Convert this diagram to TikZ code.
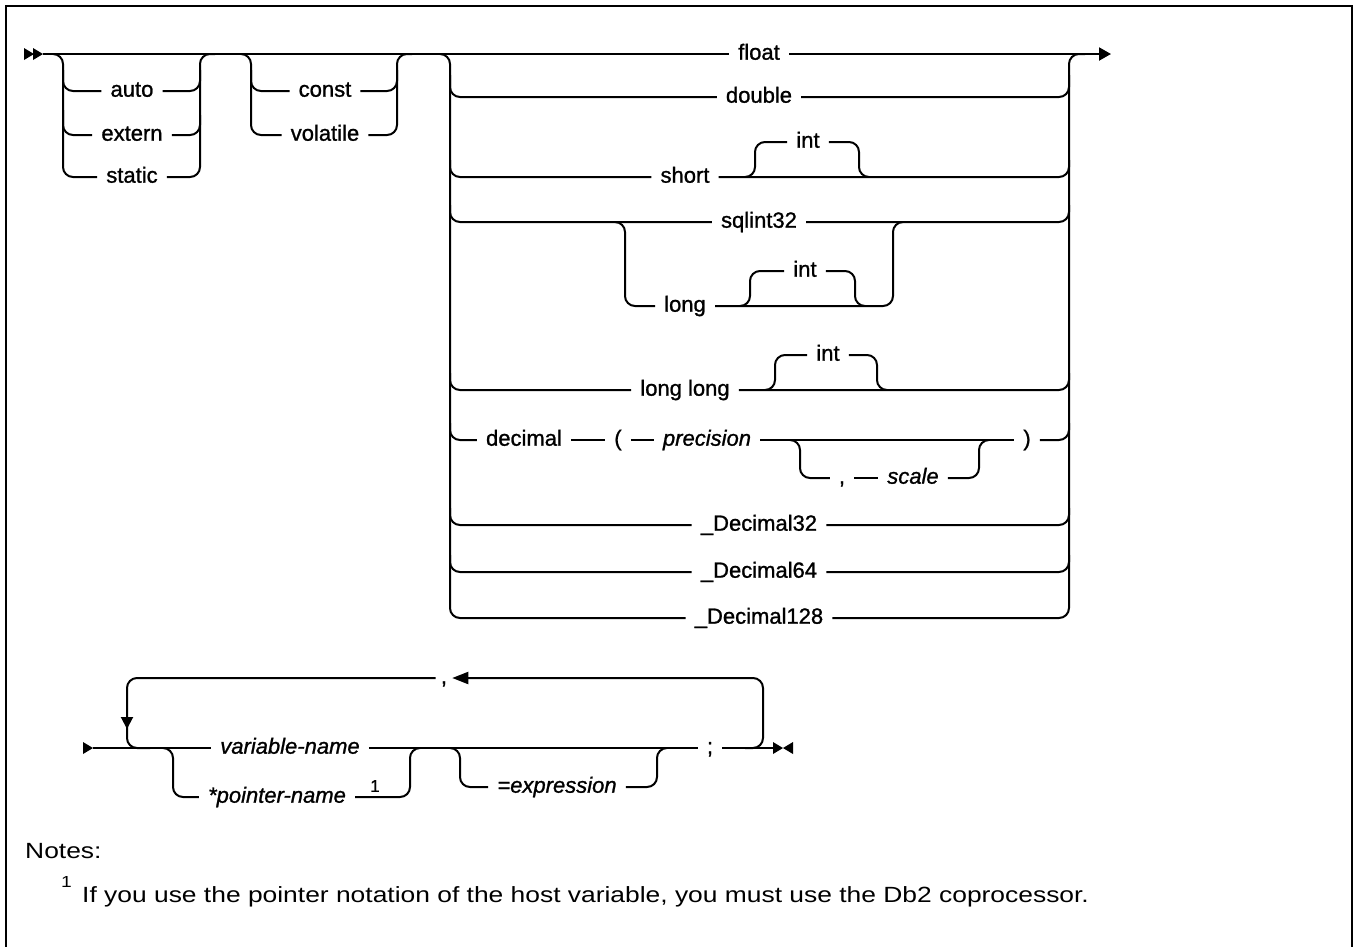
\documentclass[tikz,border=0pt]{standalone}
\usepackage{fontspec}
\setmainfont{Liberation Sans}
\newfontfamily\railfam{Liberation Sans}[FakeBold=1.1]
\newfontfamily\notefam{Liberation Sans}[FakeStretch=1.2]
\usetikzlibrary{arrows.meta}
\newcommand\lblfont{\railfam\fontsize{22}{26}\selectfont}
\newcommand\notefont{\notefam\fontsize{22}{26}\selectfont}
\newcommand\supfont{\railfam\fontsize{17}{20}\selectfont}
\newcommand\notesupfont{\notefam\fontsize{16}{19}\selectfont}
\begin{document}
\begin{tikzpicture}[x=1pt,y=-1pt,
  line/.style={line width=2pt},
  rail/.style={line width=2pt, rounded corners=10pt},
  lbl/.style={font=\lblfont, inner xsep=9pt, inner ysep=0pt, text height=11.4pt, text depth=0pt},
  ilbl/.style={lbl, font=\lblfont\itshape},
]
\useasboundingbox (0,0) rectangle (1354,946);
% frame
\draw[line width=2.5pt, line join=miter] (6,950) -- (6,6) -- (1352,6) -- (1352,950);

% ---------- top diagram ----------
\fill (24,48) -- (34,54) -- (24,60) -- cycle;
\fill (33,48) -- (43,54) -- (33,60) -- cycle;
\coordinate (s0) at (43,54);
\coordinate (e0) at (1111,54);
\node[lbl] (n-float) at (759,54) {float};
\draw[line] (s0) -- (n-float.west);
\draw[line, -{Triangle[length=12pt,width=13pt]}] (n-float.east) -- (e0);

% block 1
\node[lbl] (n-auto) at (132,91) {auto};
\node[lbl] (n-extern) at (132,135) {extern};
\node[lbl] (n-static) at (132,177) {static};
\draw[rail] (53,54) -| (63,177) -- (n-static.west);
\draw[rail] (63,70) |- (n-auto.west);
\draw[rail] (63,110) |- (n-extern.west);
\draw[rail] (n-static.east) -| (200,54) -- (215,54);
\draw[rail] (n-auto.east) -| (200,70);
\draw[rail] (n-extern.east) -| (200,115);

% block 2
\node[lbl] (n-const) at (325,91) {const};
\node[lbl] (n-volatile) at (325,135) {volatile};
\draw[rail] (241,54) -| (251,135) -- (n-volatile.west);
\draw[rail] (251,70) |- (n-const.west);
\draw[rail] (n-volatile.east) -| (397,54) -- (412,54);
\draw[rail] (n-const.east) -| (397,70);

% block 3
\node[lbl] (n-double) at (759,97) {double};
\node[lbl] (n-short) at (685,177) {short};
\node[lbl] (n-intS) at (808,142) {int};
\node[lbl] (n-sql) at (759,222) {sqlint32};
\node[lbl] (n-long) at (685,306) {long};
\node[lbl] (n-intL) at (805,271) {int};
\node[lbl] (n-ll) at (685,390) {long long};
\node[lbl] (n-intLL) at (828,355) {int};
\node[lbl] (n-decimal) at (524,440) {decimal};
\node[lbl] (n-lp) at (618,440) {(};
\node[ilbl] (n-prec) at (707,440) {precision};
\node[lbl] (n-comma) at (842,478) {,};
\node[ilbl] (n-scale) at (913,478) {scale};
\node[lbl] (n-rp) at (1027,440) {)};
\node[lbl] (n-d32) at (759,525) {\_Decimal32};
\node[lbl] (n-d64) at (759,572) {\_Decimal64};
\node[lbl] (n-d128) at (759,618) {\_Decimal128};

\draw[rail] (440,54) -| (450,618) -- (n-d128.west);
\draw[rail] (n-d128.east) -| (1069,54) -- (1085,54);

\draw[rail] (450,75) |- (n-double.west);
\draw[rail] (n-double.east) -| (1069,75);

\draw[rail] (450,160) |- (n-short.west);
\draw[rail] (n-short.east) -| (1069,160);
\draw[rail] (745,177) -| (755,142) -- (n-intS.west);
\draw[rail] (n-intS.east) -| (859,177) -- (869,177);

\draw[rail] (450,205) |- (n-sql.west);
\draw[rail] (n-sql.east) -| (1069,205);
\draw[rail] (615,222) -| (625,306) -- (n-long.west);
\draw[rail] (n-long.east) -| (893,222) -- (903,222);
\draw[rail] (740,306) -| (750,271) -- (n-intL.west);
\draw[rail] (n-intL.east) -| (855,306) -- (865,306);

\draw[rail] (450,373) |- (n-ll.west);
\draw[rail] (n-ll.east) -| (1069,373);
\draw[rail] (765,390) -| (775,355) -- (n-intLL.west);
\draw[rail] (n-intLL.east) -| (877,390) -- (887,390);

\draw[rail] (450,423) |- (n-decimal.west);
\draw[line] (n-decimal.east) -- (n-lp.west);
\draw[line] (n-lp.east) -- (n-prec.west);
\draw[line] (n-prec.east) -- (n-rp.west);
\draw[rail] (n-rp.east) -| (1069,423);
\draw[rail] (790,440) -| (800,478) -- (n-comma.west);
\draw[line] (n-comma.east) -- (n-scale.west);
\draw[rail] (n-scale.east) -| (979,440) -- (989,440);

\draw[rail] (450,508) |- (n-d32.west);
\draw[rail] (n-d32.east) -| (1069,508);
\draw[rail] (450,555) |- (n-d64.west);
\draw[rail] (n-d64.east) -| (1069,555);

% ---------- bottom diagram ----------
\fill (83,742) -- (93,748) -- (83,754) -- cycle;
\coordinate (b0) at (93,748);
\coordinate (b1) at (773,748);
\fill (773,742) -- (783,748) -- (773,754) -- cycle;
\fill (793,742) -- (783,748) -- (793,754) -- cycle;
\node[ilbl] (n-var) at (290,748) {variable-name};
\node[ilbl] (n-ptr) at (277,797) {*pointer-name};
\node[font=\supfont, inner sep=0pt] (n-sup) at (375,786) {1};
\node[ilbl] (n-expr) at (557,787) {=expression};
\node[lbl] (n-semi) at (710,748) {;};
\node[lbl, inner xsep=5pt] (n-rep) at (444,678) {,};

\draw[line] (b0) -- (n-var.west);
\draw[line] (n-var.east) -- (n-semi.west);
\draw[line] (n-semi.east) -- (b1);
\draw[rail] (163,748) -| (173,797) -- (n-ptr.west);
\draw[rail] (n-ptr.east) -| (410,748) -- (420,748);
\draw[rail] (450,748) -| (460,787) -- (n-expr.west);
\draw[rail] (n-expr.east) -| (657,748) -- (667,748);
\draw[rail, -{Triangle[length=16pt,width=12pt]}] (745,748) -| (763,678) -- (n-rep.east);
\draw[rail, -{Triangle[length=12pt,width=12pt]}] (n-rep.west) -| (127,729);
\draw[rail] (127,720) |- (150,748);

% ---------- notes ----------
\node[anchor=west, font=\notefont, inner sep=0pt] (n-notes) at (25,851) {Notes:};
\node[anchor=base west, font=\notesupfont, inner sep=0pt] (n-fn) at (61,887) {1};
\node[anchor=base west, font=\notefont, inner sep=0pt] (n-note1) at (82,902) {If you use the pointer notation of the host variable, you must use the Db2 coprocessor.};
\end{tikzpicture}
\end{document}
